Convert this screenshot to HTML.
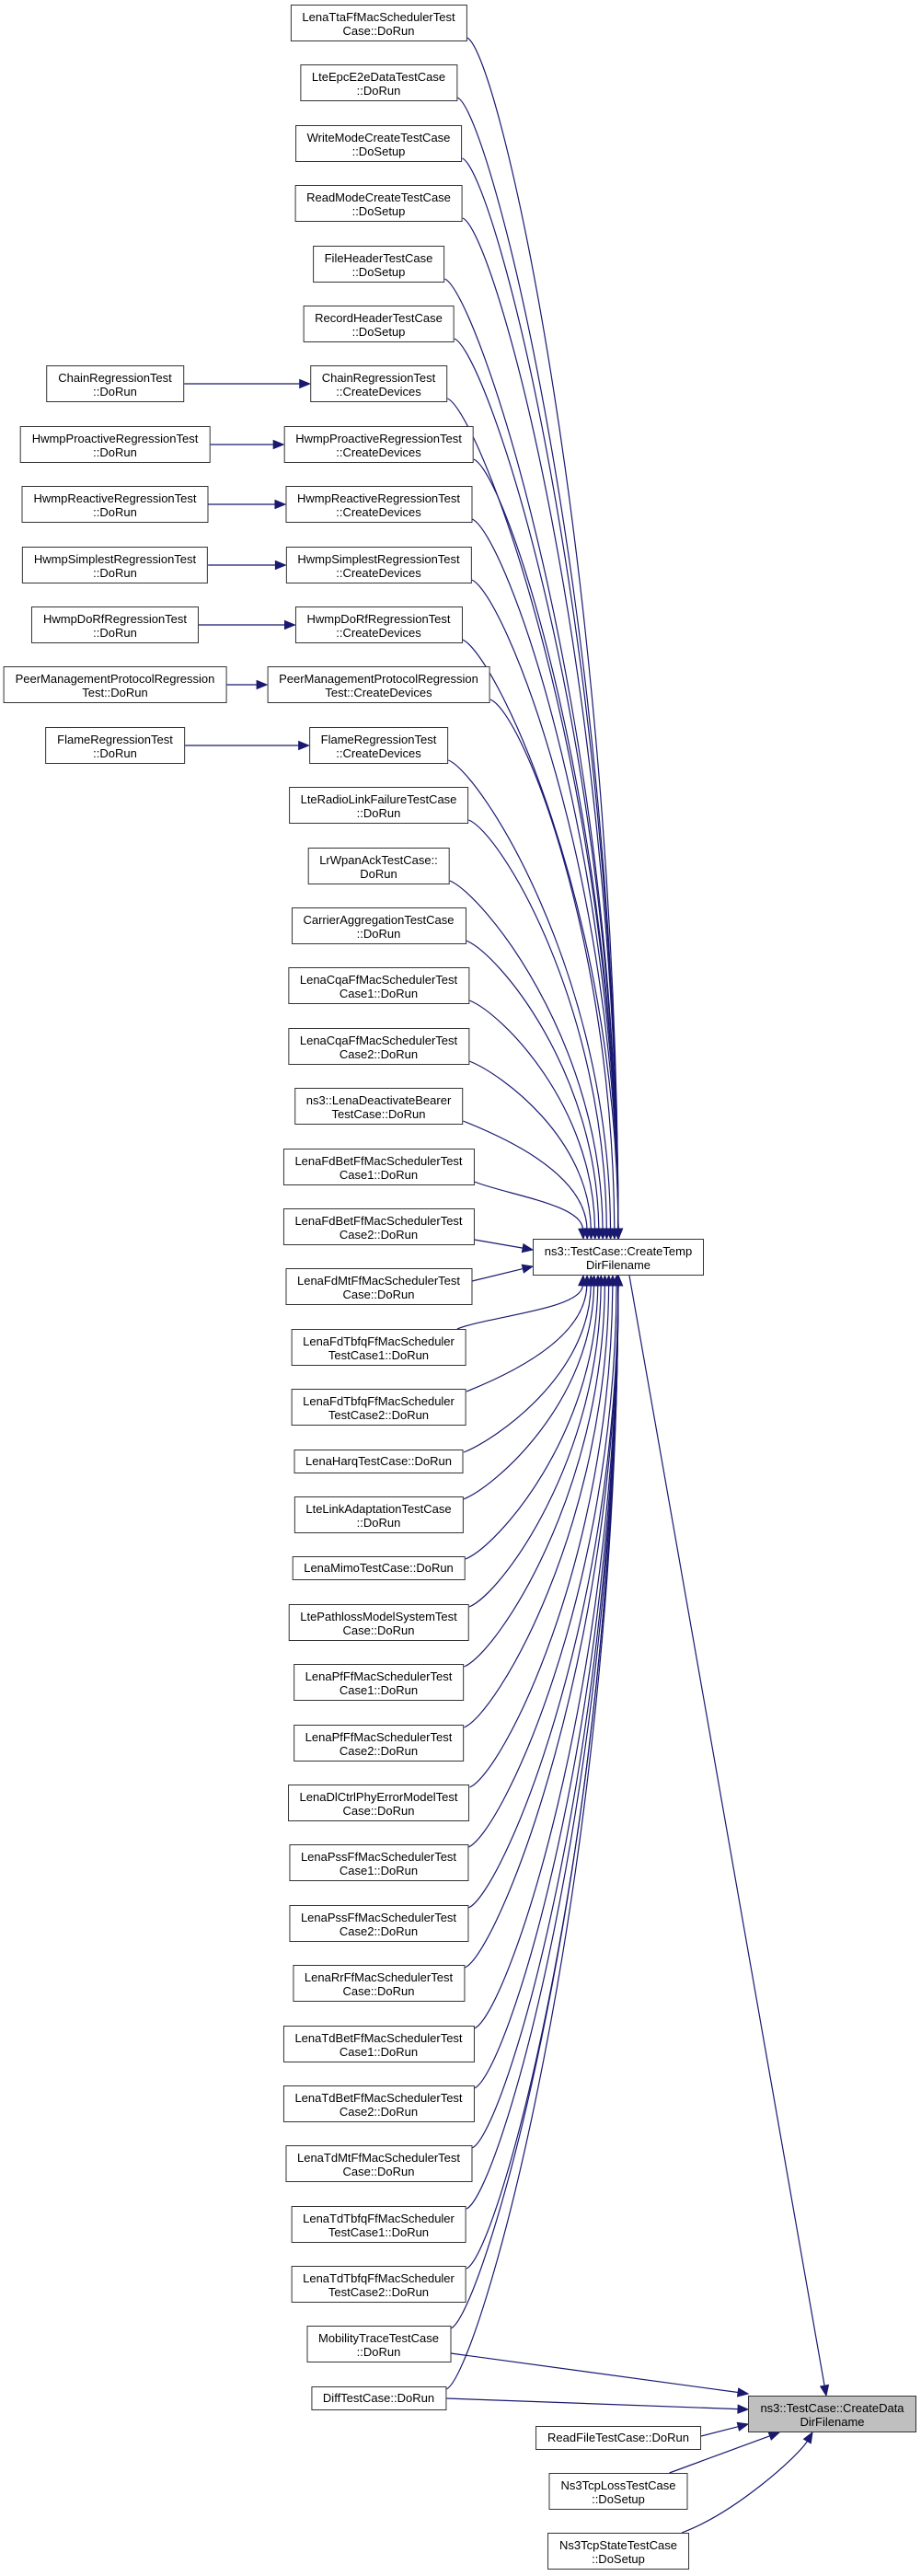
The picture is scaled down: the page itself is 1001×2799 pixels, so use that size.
<!DOCTYPE html>
<html><head><meta charset="utf-8">
<style>
html,body{margin:0;padding:0;background:#fff;}
#c{position:relative;width:1001px;height:2799px;overflow:hidden;font-family:"Liberation Sans",Arial,sans-serif;font-size:13px;color:#000;}
svg{position:absolute;left:0;top:0;}
.n{position:absolute;box-sizing:border-box;border:1px solid #333;background:#fff;text-align:center;white-space:nowrap;padding:5px 12px 0 12px;line-height:15px;transform:translateX(-50%);height:40px;}
.o{height:26px;padding-top:4px;}
.m{left:411.5px;}
.l{left:125px;}
.b{left:672px;}
.f{transform:none;padding:5px 0 0 0;}
</style></head><body><div id="c">
<svg id="s" width="1001" height="2799"></svg>
<div class="n m" style="top:5px">LenaTtaFfMacSchedulerTest<br>Case::DoRun</div>
<div class="n m" style="top:70px">LteEpcE2eDataTestCase<br>::DoRun</div>
<div class="n m" style="top:136px">WriteModeCreateTestCase<br>::DoSetup</div>
<div class="n m" style="top:201px">ReadModeCreateTestCase<br>::DoSetup</div>
<div class="n m" style="top:267px">FileHeaderTestCase<br>::DoSetup</div>
<div class="n m" style="top:332px">RecordHeaderTestCase<br>::DoSetup</div>
<div class="n m" style="top:397px">ChainRegressionTest<br>::CreateDevices</div>
<div class="n m" style="top:463px">HwmpProactiveRegressionTest<br>::CreateDevices</div>
<div class="n m" style="top:528px">HwmpReactiveRegressionTest<br>::CreateDevices</div>
<div class="n m" style="top:594px">HwmpSimplestRegressionTest<br>::CreateDevices</div>
<div class="n m" style="top:659px">HwmpDoRfRegressionTest<br>::CreateDevices</div>
<div class="n m" style="top:724px">PeerManagementProtocolRegression<br>Test::CreateDevices</div>
<div class="n m" style="top:790px">FlameRegressionTest<br>::CreateDevices</div>
<div class="n m" style="top:855px">LteRadioLinkFailureTestCase<br>::DoRun</div>
<div class="n m" style="top:921px">LrWpanAckTestCase::<br>DoRun</div>
<div class="n m" style="top:986px">CarrierAggregationTestCase<br>::DoRun</div>
<div class="n m" style="top:1051px">LenaCqaFfMacSchedulerTest<br>Case1::DoRun</div>
<div class="n m" style="top:1117px">LenaCqaFfMacSchedulerTest<br>Case2::DoRun</div>
<div class="n m" style="top:1182px">ns3::LenaDeactivateBearer<br>TestCase::DoRun</div>
<div class="n m" style="top:1248px">LenaFdBetFfMacSchedulerTest<br>Case1::DoRun</div>
<div class="n m" style="top:1313px">LenaFdBetFfMacSchedulerTest<br>Case2::DoRun</div>
<div class="n m" style="top:1378px">LenaFdMtFfMacSchedulerTest<br>Case::DoRun</div>
<div class="n m" style="top:1444px">LenaFdTbfqFfMacScheduler<br>TestCase1::DoRun</div>
<div class="n m" style="top:1509px">LenaFdTbfqFfMacScheduler<br>TestCase2::DoRun</div>
<div class="n m o" style="top:1575px">LenaHarqTestCase::DoRun</div>
<div class="n m" style="top:1626px">LteLinkAdaptationTestCase<br>::DoRun</div>
<div class="n m o" style="top:1691px">LenaMimoTestCase::DoRun</div>
<div class="n m" style="top:1743px">LtePathlossModelSystemTest<br>Case::DoRun</div>
<div class="n m" style="top:1808px">LenaPfFfMacSchedulerTest<br>Case1::DoRun</div>
<div class="n m" style="top:1874px">LenaPfFfMacSchedulerTest<br>Case2::DoRun</div>
<div class="n m" style="top:1939px">LenaDlCtrlPhyErrorModelTest<br>Case::DoRun</div>
<div class="n m" style="top:2004px">LenaPssFfMacSchedulerTest<br>Case1::DoRun</div>
<div class="n m" style="top:2070px">LenaPssFfMacSchedulerTest<br>Case2::DoRun</div>
<div class="n m" style="top:2135px">LenaRrFfMacSchedulerTest<br>Case::DoRun</div>
<div class="n m" style="top:2201px">LenaTdBetFfMacSchedulerTest<br>Case1::DoRun</div>
<div class="n m" style="top:2266px">LenaTdBetFfMacSchedulerTest<br>Case2::DoRun</div>
<div class="n m" style="top:2331px">LenaTdMtFfMacSchedulerTest<br>Case::DoRun</div>
<div class="n m" style="top:2397px">LenaTdTbfqFfMacScheduler<br>TestCase1::DoRun</div>
<div class="n m" style="top:2462px">LenaTdTbfqFfMacScheduler<br>TestCase2::DoRun</div>
<div class="n m" style="top:2527px">MobilityTraceTestCase<br>::DoRun</div>
<div class="n m o" style="top:2593px">DiffTestCase::DoRun</div>

<div class="n l" style="top:397px">ChainRegressionTest<br>::DoRun</div>
<div class="n l" style="top:463px">HwmpProactiveRegressionTest<br>::DoRun</div>
<div class="n l" style="top:528px">HwmpReactiveRegressionTest<br>::DoRun</div>
<div class="n l" style="top:594px">HwmpSimplestRegressionTest<br>::DoRun</div>
<div class="n l" style="top:659px">HwmpDoRfRegressionTest<br>::DoRun</div>
<div class="n l" style="top:724px">PeerManagementProtocolRegression<br>Test::DoRun</div>
<div class="n l" style="top:790px">FlameRegressionTest<br>::DoRun</div>

<div class="n b o" style="top:2636px">ReadFileTestCase::DoRun</div>
<div class="n b" style="top:2687px">Ns3TcpLossTestCase<br>::DoSetup</div>
<div class="n b" style="top:2752px">Ns3TcpStateTestCase<br>::DoSetup</div>

<div id="ct" class="n f" style="left:579px;top:1346px;width:186px">ns3::TestCase::CreateTemp<br>DirFilename</div>
<div id="cd" class="n f" style="left:813px;top:2603px;width:183px;background:#bfbfbf">ns3::TestCase::CreateData<br>DirFilename</div>
</div>
<script>
(function(){
var s=document.getElementById('s'),NS='http://www.w3.org/2000/svg',C='#191970';
function el(t,a){var e=document.createElementNS(NS,t);for(var k in a)e.setAttribute(k,a[k]);s.appendChild(e);return e;}
function edge(p){
 var sx,sy,c1x,c1y,c2x,c2y,tx,ty;
 if(p.length==4){sx=p[0];sy=p[1];tx=p[2];ty=p[3];c1x=sx;c1y=sy;c2x=sx;c2y=sy;}
 else{sx=p[0];sy=p[1];c1x=p[2];c1y=p[3];c2x=p[4];c2y=p[5];tx=p[6];ty=p[7];}
 var dx=tx-c2x,dy=ty-c2y,L=Math.sqrt(dx*dx+dy*dy)||1;dx/=L;dy/=L;
 var L2=11,ex=tx-dx*L2,ey=ty-dy*L2;
 var d=p.length==4?('M'+sx+','+sy+' L'+ex+','+ey):('M'+sx+','+sy+' C'+c1x+','+c1y+' '+(c2x-dx*L2*0.3)+','+(c2y-dy*L2*0.3)+' '+ex+','+ey);
 el('path',{d:d,fill:'none',stroke:C,'stroke-width':1.2});
 var px=-dy*4.5,py=dx*4.5;
 el('polygon',{points:tx+','+ty+' '+(ex+px)+','+(ey+py)+' '+(ex-px)+','+(ey-py),fill:C,stroke:C,'stroke-width':1});
}
var c=document.getElementById('c').getBoundingClientRect();
function R(e){var r=e.getBoundingClientRect();return {l:r.left-c.left,r:r.right-c.left,t:r.top-c.top,b:r.bottom-c.top,cy:(r.top+r.bottom)/2-c.top};}
var mids=document.querySelectorAll('.m'),lefts=document.querySelectorAll('.l'),bots=document.querySelectorAll('.b');
var CT={l:579,r:765,t:1346,b:1386},CD={l:813,r:996,t:2603,b:2643};
for(var i=0;i<mids.length;i++){
 var r=R(mids[i]);
 if(r.cy<1300){
  var sx=r.r,sy=r.b-4,d=CT.t-sy,tx=672-42*(1-Math.min(d,650)/650),ty=CT.t;
  edge([sx,sy,sx+35,sy+14,tx-2,ty-d*0.55,tx,ty]);
 } else if(r.cy<1345){ edge([r.r,r.b-6,CT.l,1358]); }
 else if(r.cy<1420){ edge([r.r,r.t+14,CT.l,1376]); }
 else {
  var sx=r.r,sy=r.t+3,d=sy-CT.b,tx=672-42*(1-Math.min(d,650)/650),ty=CT.b;
  if(i==22){sx=r.r-10;sy=r.t;}
  edge([sx,sy,sx+35,sy-14,tx-2,ty+d*0.55,tx,ty]);
 }
}
for(var j=0;j<lefts.length;j++){var a=R(lefts[j]),b=R(mids[6+j]);edge([a.r,a.cy,b.l,a.cy]);}
edge([684,CT.b,898,CD.t]);
var mo=R(mids[39]),df=R(mids[40]);
edge([mo.r,mo.cy+10,CD.l,2601]);
edge([df.r,df.cy,CD.l,2618]);
var rf=R(bots[0]),tl=R(bots[1]),ts=R(bots[2]);
edge([rf.r,rf.cy-2,CD.l,2634]);
edge([tl.r-20,tl.t,847,CD.b]);
edge([ts.r-8,ts.t,800,2730,870,2665,883,CD.b]);
})();
</script>
</body></html>
